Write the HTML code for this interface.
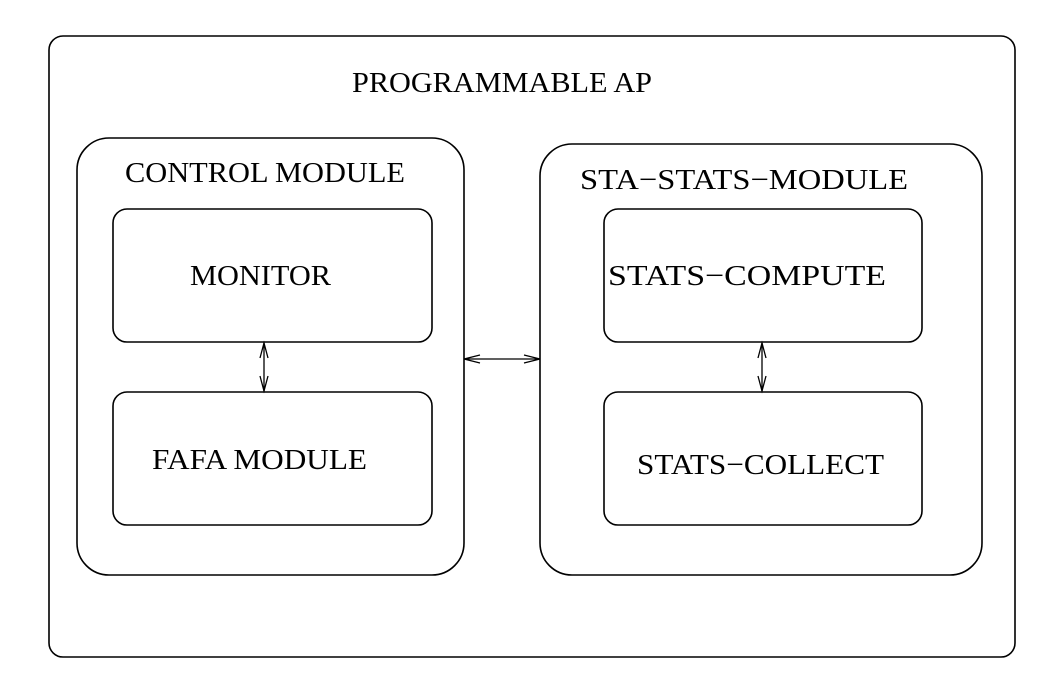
<!DOCTYPE html>
<html><head><meta charset="utf-8"><style>html,body{margin:0;padding:0;background:#fff}</style></head>
<body>
<svg width="1056" height="694" viewBox="0 0 1056 694" xmlns="http://www.w3.org/2000/svg" font-family="Liberation Serif, serif" font-size="29" fill="none" stroke="#000" stroke-width="1.6">
<rect x="49" y="36" width="966" height="621" rx="14"/>
<rect x="77" y="138" width="387" height="437" rx="32"/>
<rect x="540" y="144" width="442" height="431" rx="32"/>
<rect x="113" y="209" width="319" height="133" rx="14"/>
<rect x="113" y="392" width="319" height="133" rx="14"/>
<rect x="604" y="209" width="318" height="133" rx="14"/>
<rect x="604" y="392" width="318" height="133" rx="14"/>
<g stroke-width="1.3">
<line x1="264" y1="343" x2="264" y2="391"/>
<polyline points="260,358 264,343 268,358"/>
<polyline points="260,376 264,391 268,376"/>
<line x1="762" y1="343" x2="762" y2="391"/>
<polyline points="758,358 762,343 766,358"/>
<polyline points="758,376 762,391 766,376"/>
<line x1="464" y1="359" x2="540" y2="359"/>
<polyline points="480,355 464,359 480,363"/>
<polyline points="524,355 540,359 524,363"/>
</g>
<g fill="#000" stroke="none" lengthAdjust="spacingAndGlyphs">
<text x="352" y="92" textLength="300" lengthAdjust="spacingAndGlyphs">PROGRAMMABLE AP</text>
<text x="125" y="182" textLength="280" lengthAdjust="spacingAndGlyphs">CONTROL MODULE</text>
<text x="580" y="189" textLength="328" lengthAdjust="spacingAndGlyphs">STA−STATS−MODULE</text>
<text x="190" y="285" textLength="141" lengthAdjust="spacingAndGlyphs">MONITOR</text>
<text x="152" y="469" textLength="215" lengthAdjust="spacingAndGlyphs">FAFA MODULE</text>
<text x="608" y="285" textLength="278" lengthAdjust="spacingAndGlyphs">STATS−COMPUTE</text>
<text x="637" y="474" textLength="247" lengthAdjust="spacingAndGlyphs">STATS−COLLECT</text>
</g>
</svg>
</body></html>
